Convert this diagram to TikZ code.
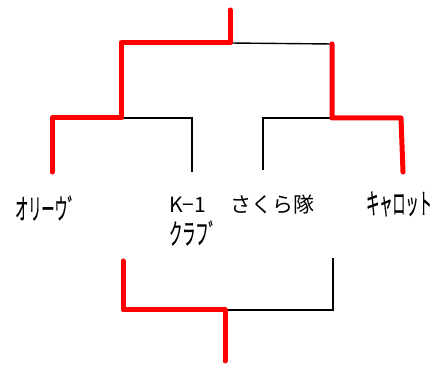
\documentclass[tikz,border=0pt]{standalone}
\usepackage{fontspec}
\usepackage{graphicx}
\newfontfamily\jp{Noto Sans CJK JP}
\newfontfamily\jpk[FakeBold=0.5]{Noto Sans CJK JP}
\newcommand{\hkana}[1]{\scalebox{0.46}[1]{\jpk\fontsize{28.5}{32}\selectfont #1}}
\begin{document}
\begin{tikzpicture}[x=1pt,y=-1pt,
  win/.style={draw=red,line width=5pt,line cap=round,line join=round},
  lose/.style={draw=black,line width=1.4pt},
  lbl/.style={font=\jp\fontsize{21}{24}\selectfont,inner sep=0pt}]
\useasboundingbox (0,0) rectangle (437,366);
% coordinates
\coordinate (top) at (230,10);
\coordinate (tm) at (230,43);
\coordinate (l1) at (121,43);
\coordinate (r1) at (332,44);
\coordinate (l2) at (121,118);
\coordinate (r2) at (332,118);
\coordinate (oT) at (52,118);
\coordinate (oB) at (52,172);
\coordinate (kT) at (192,118);
\coordinate (kB) at (192,172);
\coordinate (sT) at (263,118);
\coordinate (sB) at (263,170);
\coordinate (cT) at (401,118);
\coordinate (cB) at (403,172);
\coordinate (bL) at (123,261);
\coordinate (bLc) at (123,310);
\coordinate (bm) at (225,310);
\coordinate (bB) at (225,361);
\coordinate (bRc) at (333,310);
\coordinate (bR) at (333,258);
% black lines
\draw[lose] (tm) -- (r1);
\draw[lose] (l2) -- (kT) -- (kB);
\draw[lose] (sB) -- (sT) -- (r2);
\draw[lose] (bm) -- (bRc) -- (bR);
% red lines
\draw[win] (top) -- (tm) -- (l1) -- (l2) -- (oT) -- (oB);
\draw[win] (r1) -- (r2) -- (cT) -- (cB);
\draw[win] (bL) -- (bLc) -- (bm) -- (bB);
% labels
\node[lbl,anchor=west] (olive) at (15,208) {\hkana{オリーウ゛}};
\node[lbl,anchor=west] (k1) at (169,205) {K−1};
\node[lbl,anchor=west] (club) at (169,233) {\hkana{クラフ゛}};
\node[lbl] (sakura) at (272,205) {さくら隊};
\node[lbl,anchor=west] (carrot) at (366,204) {\hkana{キャロット}};
\end{tikzpicture}
\end{document}
